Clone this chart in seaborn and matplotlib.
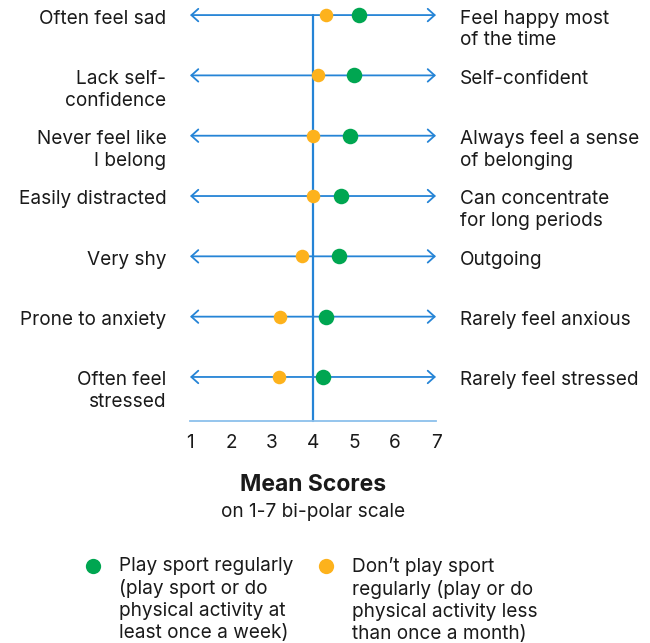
import matplotlib
matplotlib.use("Agg")
import matplotlib.pyplot as plt
import seaborn as sns
import pandas as pd

# ---- data ----
left_labels = ["Often feel sad", "Lack self-\nconfidence", "Never feel like\nI belong",
               "Easily distracted", "Very shy", "Prone to anxiety", "Often feel\nstressed"]
right_labels = ["Feel happy most\nof the time", "Self-confident", "Always feel a sense\nof belonging",
                "Can concentrate\nfor long periods", "Outgoing", "Rarely feel anxious",
                "Rarely feel stressed"]
play_sport = [5.13, 4.99, 4.91, 4.69, 4.63, 4.31, 4.24]
no_sport = [4.32, 4.11, 4.00, 4.00, 3.73, 3.20, 3.17]
ticks = [1, 2, 3, 4, 5, 6, 7]
group_names = ["Play sport regularly\n(play sport or do\nphysical activity at\nleast once a week)",
               "Don\u2019t play sport\nregularly (play or do\nphysical activity less\nthan once a month)"]

GREEN = "#00A651"
ORANGE = "#FDB21C"
BLUE = "#2584D6"
LIGHTBLUE = "#8CC0EC"
TEXT = "#1a1a1a"
FS = 13.7

sns.set_theme(style="white")
plt.rcParams["font.family"] = ["Inter", "DejaVu Sans"]

rows = list(range(len(left_labels)))
df = pd.DataFrame({
    "row": rows * 2,
    "score": play_sport + no_sport,
    "group": [group_names[0]] * len(rows) + [group_names[1]] * len(rows),
})

fig = plt.figure(figsize=(6.5, 6.43), dpi=100)
ax = fig.add_axes([190 / 650, 1 - 421 / 643, (436 - 190) / 650, 421 / 643])
ybottom = 6.73
ax.set_xlim(1, 7)
ax.set_ylim(ybottom, -0.25)

# arrow lines
for r in rows:
    ax.annotate("", xy=(7, r), xytext=(1, r),
                arrowprops=dict(arrowstyle="<->,head_length=0.5,head_width=0.45",
                                color=BLUE, lw=1.3, shrinkA=0, shrinkB=0,
                                mutation_scale=10), zorder=1)
# vertical midpoint line
ax.plot([4, 4], [rows[0], ybottom], color=BLUE, lw=1.6, zorder=1, clip_on=False)

sns.scatterplot(data=df[df.group == group_names[1]], x="score", y="row", color=ORANGE,
                s=95, linewidth=0, ax=ax, zorder=3, clip_on=False, legend=False)
sns.scatterplot(data=df[df.group == group_names[0]], x="score", y="row", color=GREEN,
                s=125, linewidth=0, ax=ax, zorder=4, clip_on=False, legend=False)

for s in ["top", "left", "right"]:
    ax.spines[s].set_visible(False)
ax.spines["bottom"].set_color(LIGHTBLUE)
ax.spines["bottom"].set_linewidth(1.3)
ax.set_yticks([])
ax.set_xticks(ticks)
ax.set_xticklabels([str(t) for t in ticks])
ax.tick_params(axis="x", length=0, pad=9, labelsize=FS, labelcolor=TEXT)
ax.set_xlabel("")
ax.set_ylabel("")

for r, (l, rt) in enumerate(zip(left_labels, right_labels)):
    ax.annotate(l, xy=(1, r), xytext=(-17, 4), textcoords="offset points",
                ha="right", va="top", fontsize=FS, color=TEXT, linespacing=1.27,
                multialignment="right")
    ax.annotate(rt, xy=(7, r), xytext=(17, 4), textcoords="offset points",
                ha="left", va="top", fontsize=FS, color=TEXT, linespacing=1.27)

fig.text(313 / 650, 1 - 485 / 643, "Mean Scores", ha="center", va="center",
         fontsize=16.5, fontweight="bold", color=TEXT)
fig.text(313 / 650, 1 - 512 / 643, "on 1-7 bi-polar scale", ha="center", va="center",
         fontsize=FS, color=TEXT)

# legend (manual)
for (mx, tx, col, name, sz) in [(93, 119, GREEN, group_names[0], 11),
                                (326, 352, ORANGE, group_names[1], 11)]:
    fig.add_artist(plt.Line2D([mx / 650], [1 - 566 / 643], marker="o", markersize=sz,
                              color=col, markeredgewidth=0, linestyle="none",
                              transform=fig.transFigure))
    fig.text(tx / 650, 1 - 557 / 643, name, ha="left", va="top", fontsize=FS,
             color=TEXT, linespacing=1.27)

fig.savefig("out.png", dpi=100)
